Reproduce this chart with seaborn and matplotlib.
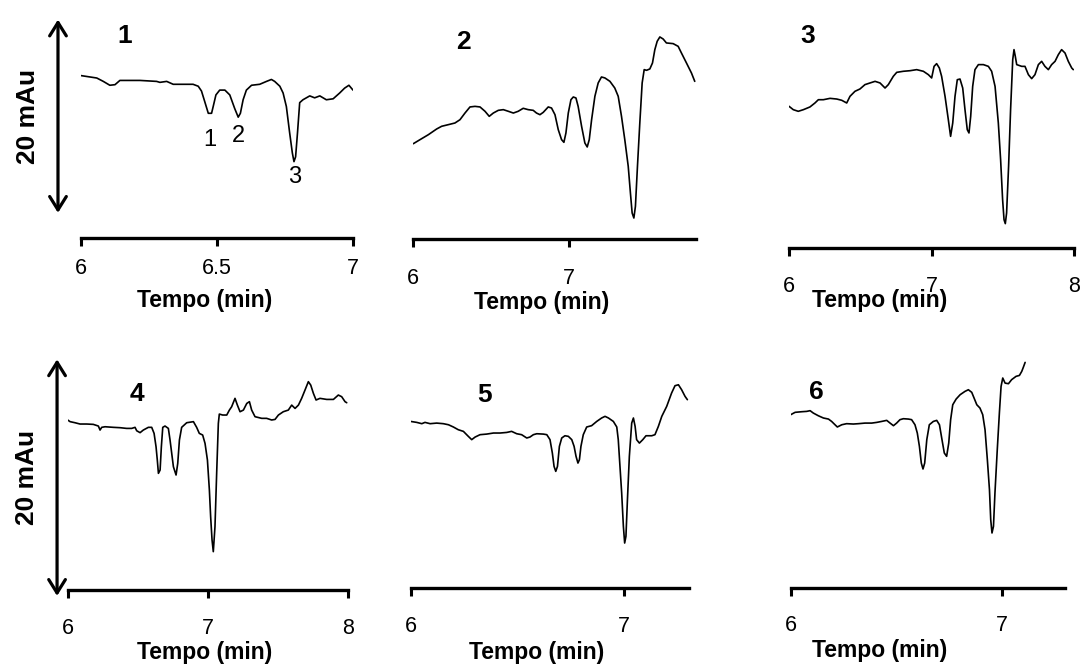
import numpy as np
import pandas as pd
import matplotlib
matplotlib.use("Agg")
import matplotlib.pyplot as plt
import matplotlib.transforms as mtransforms
import seaborn as sns

# ---------------- data (time in min, signal in mAu) ----------------
t1 = [6.000, 6.058, 6.082, 6.106, 6.125, 6.143, 6.217, 6.278, 6.290, 6.315, 6.339, 6.364, 6.412, 6.431,
      6.443, 6.455, 6.468, 6.480, 6.486, 6.496, 6.510, 6.529, 6.547, 6.565, 6.578, 6.586, 6.596, 6.608,
      6.627, 6.657, 6.682, 6.700, 6.712, 6.731, 6.743, 6.755, 6.767, 6.777, 6.783, 6.789, 6.796, 6.804,
      6.816, 6.841, 6.859, 6.878, 6.902, 6.927, 6.951, 6.969, 6.985, 7.000]
s1 = [16.8, 16.55, 16.2, 15.8, 15.86, 16.3, 16.3, 16.2, 16.1, 16.2, 15.9, 15.9, 15.9, 15.7,
      15.2, 14.1, 12.9, 12.9, 13.6, 14.8, 15.3, 15.3, 14.8, 13.4, 12.5, 12.9, 14.3, 15.3,
      15.8, 15.9, 16.2, 16.4, 16.2, 15.7, 15.0, 13.6, 10.9, 8.8, 7.9, 8.4, 10.9, 14.0,
      14.3, 14.7, 14.5, 14.7, 14.3, 14.4, 15.0, 15.5, 15.8, 15.3]

t2 = [6.004, 6.047, 6.100, 6.153, 6.185, 6.228, 6.270, 6.302, 6.334, 6.366, 6.398, 6.430, 6.462, 6.489,
      6.515, 6.547, 6.579, 6.611, 6.643, 6.674, 6.706, 6.738, 6.770, 6.791, 6.813, 6.834, 6.866, 6.887,
      6.909, 6.930, 6.951, 6.966, 6.979, 6.994, 7.011, 7.026, 7.043, 7.057, 7.079, 7.100, 7.115, 7.128,
      7.143, 7.164, 7.185, 7.206, 7.228, 7.260, 7.291, 7.313, 7.334, 7.355, 7.377, 7.391, 7.402, 7.413,
      7.423, 7.436, 7.451, 7.466, 7.479, 7.494, 7.515, 7.532, 7.547, 7.562, 7.579, 7.600, 7.621, 7.664,
      7.696, 7.717, 7.749, 7.781, 7.802]
s2 = [9.86, 10.28, 10.79, 11.38, 11.66, 11.83, 12.0, 12.34, 13.03, 13.66, 13.72, 13.66, 13.21, 12.69,
      13.03, 13.31, 13.38, 13.21, 13.03, 13.21, 13.52, 13.38, 13.31, 13.03, 12.86, 13.10, 13.66, 13.55,
      12.86, 11.31, 10.28, 10.0, 10.97, 13.03, 14.41, 14.69, 14.59, 13.72, 11.66, 9.93, 9.52, 10.28,
      12.34, 14.76, 16.14, 16.76, 16.66, 16.31, 15.62, 14.76, 12.69, 10.28, 7.52, 4.76, 2.69, 2.17,
      3.38, 7.52, 12.0, 16.14, 17.52, 17.45, 17.59, 18.21, 19.59, 20.45, 20.90, 20.69, 20.28, 20.21,
      19.93, 19.24, 18.21, 17.17, 16.31]

t3 = [6.000, 6.030, 6.065, 6.101, 6.147, 6.182, 6.206, 6.241, 6.288, 6.335, 6.370, 6.405, 6.428, 6.463,
      6.498, 6.533, 6.568, 6.604, 6.639, 6.674, 6.697, 6.732, 6.756, 6.802, 6.849, 6.896, 6.943, 6.978,
      7.001, 7.018, 7.036, 7.055, 7.071, 7.095, 7.118, 7.134, 7.149, 7.165, 7.181, 7.200, 7.219, 7.235,
      7.251, 7.263, 7.275, 7.289, 7.305, 7.329, 7.364, 7.399, 7.422, 7.446, 7.469, 7.485, 7.499, 7.509,
      7.518, 7.527, 7.541, 7.555, 7.570, 7.579, 7.588, 7.598, 7.633, 7.656, 7.680, 7.703, 7.726, 7.750,
      7.773, 7.796, 7.820, 7.843, 7.867, 7.890, 7.913, 7.937, 7.960, 7.984, 7.995]
s3 = [14.66, 14.31, 14.14, 14.31, 14.59, 15.0, 15.34, 15.34, 15.48, 15.41, 15.28, 15.0, 15.69, 16.21,
      16.45, 16.90, 17.07, 17.24, 17.07, 16.55, 16.90, 17.76, 18.17, 18.28, 18.34, 18.45, 18.28, 17.93,
      17.59, 18.79, 19.07, 18.62, 17.76, 15.69, 13.28, 11.55, 12.93, 15.69, 17.41, 17.48, 16.55, 14.31,
      12.24, 11.90, 13.62, 16.72, 18.45, 18.97, 18.97, 18.79, 18.28, 16.72, 12.93, 9.14, 5.0, 2.93,
      2.52, 3.62, 8.45, 14.31, 19.48, 20.52, 19.83, 18.97, 18.79, 18.79, 17.93, 17.52, 17.93, 18.97,
      19.31, 18.79, 18.45, 18.97, 19.31, 20.0, 20.52, 20.17, 19.31, 18.62, 18.45]

t4 = [6.000, 6.017, 6.052, 6.088, 6.136, 6.183, 6.219, 6.231, 6.243, 6.267, 6.326, 6.374, 6.421, 6.457,
      6.481, 6.493, 6.517, 6.540, 6.576, 6.600, 6.617, 6.631, 6.640, 6.648, 6.660, 6.669, 6.679, 6.695,
      6.719, 6.731, 6.743, 6.755, 6.774, 6.786, 6.798, 6.814, 6.850, 6.898, 6.921, 6.940, 6.964, 6.981,
      6.998, 7.012, 7.021, 7.031, 7.040, 7.052, 7.064, 7.076, 7.083, 7.107, 7.136, 7.155, 7.171, 7.195,
      7.212, 7.231, 7.255, 7.279, 7.298, 7.314, 7.338, 7.386, 7.421, 7.457, 7.481, 7.505, 7.540, 7.576,
      7.600, 7.624, 7.648, 7.671, 7.695, 7.719, 7.736, 7.755, 7.774, 7.802, 7.850, 7.898, 7.933, 7.957,
      7.981, 7.993]
s4 = [14.37, 14.23, 14.14, 14.03, 14.03, 14.0, 13.86, 13.52, 13.75, 13.80, 13.75, 13.72, 13.66, 13.66,
      13.75, 13.46, 13.30, 13.52, 13.75, 13.75, 13.24, 12.11, 10.99, 9.86, 10.14, 12.11, 13.75, 13.86,
      13.66, 12.68, 11.55, 10.42, 9.72, 10.70, 12.68, 13.75, 14.14, 14.23, 13.75, 13.24, 13.10, 12.39,
      10.99, 8.45, 6.20, 4.23, 3.24, 5.35, 9.86, 14.08, 14.87, 14.79, 14.79, 15.21, 15.49, 16.20,
      15.63, 15.07, 15.21, 15.77, 15.92, 15.21, 14.65, 14.51, 14.51, 14.37, 14.42, 14.79, 15.07, 15.21,
      15.63, 15.35, 15.63, 16.20, 16.90, 17.61, 17.32, 16.62, 16.06, 16.20, 16.11, 16.11, 16.48, 16.34,
      15.92, 15.83]

t5 = [6.000, 6.028, 6.052, 6.067, 6.091, 6.122, 6.153, 6.177, 6.200, 6.223, 6.247, 6.270, 6.286, 6.302,
      6.325, 6.356, 6.388, 6.419, 6.450, 6.473, 6.497, 6.520, 6.544, 6.559, 6.575, 6.591, 6.622, 6.638,
      6.653, 6.664, 6.672, 6.680, 6.688, 6.697, 6.708, 6.723, 6.739, 6.755, 6.766, 6.775, 6.784, 6.791,
      6.798, 6.809, 6.825, 6.848, 6.872, 6.895, 6.911, 6.927, 6.950, 6.966, 6.973, 6.981, 6.989, 6.997,
      7.003, 7.009, 7.016, 7.025, 7.036, 7.044, 7.052, 7.059, 7.072, 7.088, 7.103, 7.130, 7.145, 7.161,
      7.177, 7.200, 7.223, 7.239, 7.255, 7.270, 7.286, 7.297]
s5 = [14.08, 14.0, 13.89, 14.0, 13.89, 13.94, 13.89, 13.80, 13.61, 13.38, 13.24, 12.82, 12.54, 12.76,
      12.96, 13.01, 13.10, 13.10, 13.15, 13.24, 13.04, 12.96, 12.68, 12.76, 12.96, 13.04, 13.01, 12.96,
      12.54, 11.41, 10.28, 9.86, 10.28, 11.97, 12.68, 12.87, 12.82, 12.54, 11.97, 11.13, 10.56, 10.85,
      11.97, 12.96, 13.61, 13.72, 14.08, 14.37, 14.51, 14.37, 14.08, 13.61, 12.54, 10.28, 8.03, 5.21,
      3.80, 4.37, 7.46, 11.13, 13.94, 14.37, 13.66, 12.54, 12.25, 12.54, 12.87, 12.87, 12.96, 13.66,
      14.51, 15.35, 16.48, 17.10, 17.18, 16.76, 16.20, 15.92]

t6 = [6.000, 6.021, 6.052, 6.076, 6.092, 6.107, 6.131, 6.155, 6.179, 6.194, 6.210, 6.221, 6.242, 6.265,
      6.297, 6.321, 6.352, 6.384, 6.408, 6.431, 6.455, 6.471, 6.487, 6.502, 6.518, 6.534, 6.558, 6.573,
      6.589, 6.600, 6.610, 6.619, 6.627, 6.635, 6.645, 6.657, 6.676, 6.692, 6.705, 6.717, 6.728, 6.739,
      6.749, 6.758, 6.768, 6.784, 6.803, 6.826, 6.842, 6.858, 6.869, 6.882, 6.897, 6.910, 6.921, 6.932,
      6.942, 6.948, 6.954, 6.961, 6.968, 6.979, 6.989, 6.997, 7.005, 7.016, 7.032, 7.047, 7.068, 7.084,
      7.095, 7.103, 7.111]
s6 = [14.65, 14.85, 14.90, 14.93, 14.99, 14.79, 14.56, 14.37, 14.28, 14.08, 13.80, 13.61, 13.80, 13.89,
      13.86, 13.89, 13.94, 13.94, 14.0, 14.08, 14.17, 13.94, 13.72, 13.94, 14.23, 14.31, 14.28, 14.23,
      13.80, 13.10, 11.97, 10.56, 10.06, 10.56, 12.54, 13.80, 14.08, 14.17, 13.80, 12.54, 11.41, 11.13,
      12.25, 14.23, 15.49, 15.97, 16.34, 16.62, 16.76, 16.54, 16.06, 15.49, 15.21, 14.65, 13.38, 10.85,
      8.31, 5.77, 4.65, 5.21, 8.03, 11.69, 14.79, 17.04, 17.75, 17.32, 17.27, 17.61, 17.89, 17.97,
      18.31, 18.68, 19.07]

panel_names = ["1", "2", "3", "4", "5", "6"]
ticks1 = [6, 6.5, 7]
ticks2 = [6, 7]
ticks3 = [6, 7, 8]
ticks4 = [6, 7, 8]
ticks5 = [6, 7]
ticks6 = [6, 7]
peak_names = ["1", "2", "3"]
peak_t = [6.474, 6.578, 6.787]
peak_s = [10.1, 10.5, 6.3]
xlabel_text = "Tempo (min)"
scale_text = "20 mAu"
scale_len = 20.0

# ---------------- style ----------------
sns.set_theme(style="white")
plt.rcParams["font.family"] = ["Liberation Sans", "DejaVu Sans"]

W, H = 1084, 671
fig = plt.figure(figsize=(W / 100, H / 100), dpi=100)
fig.patch.set_facecolor("white")


def fmt(v):
    return ("%g" % v)


def make_ax(left, right, bottom, top, xmax, pxmau, ticks, pad):
    ax = fig.add_axes([left / W, 1 - bottom / H, (right - left) / W, (bottom - top) / H])
    ax.set_facecolor("none")
    ax.set_xlim(6, xmax)
    ax.set_ylim(0, (bottom - top) / pxmau)
    for sp in ["left", "right", "top"]:
        ax.spines[sp].set_visible(False)
    ax.spines["bottom"].set_linewidth(2.4)
    ax.spines["bottom"].set_color("black")
    ax.set_yticks([])
    ax.set_xticks(ticks)
    ax.set_xticklabels([fmt(v) for v in ticks])
    ax.tick_params(axis="x", direction="out", length=6, width=2.2, color="black",
                   labelsize=15.5, labelcolor="black", pad=pad, bottom=True)
    ax.set_xlabel("")
    ax.set_ylabel("")
    return ax


row1 = 9.667   # px per mAu, top row
row2 = 11.83   # px per mAu, bottom row

specs = [
    (t1, s1, 81, 353, 238, 8, 7.0, row1, ticks1, 8.5, (6.162, 20.9), (205, 300)),
    (t2, s2, 412.7, 696, 239, 8, 7.81, row1, ticks2, 15, (6.323, 20.4), (542, 302)),
    (t3, s3, 789, 1074, 248, 8, 8.0, row1, ticks3, 14, (6.128, 21.9), (880, 301)),
    (t4, s4, 67.7, 347.7, 590, 345, 8.0, row2, ticks4, 14, (6.493, 16.6), (205, 653)),
    (t5, s5, 410.7, 689.3, 588, 345, 7.306, row2, ticks5, 14, (6.348, 16.3), (537, 652)),
    (t6, s6, 790.7, 1065, 588, 345, 7.30, row2, ticks6, 13.5, (6.123, 16.6), (880, 650)),
]

axes = []
for i, (t, s, l, r, b, tp, xm, sc, tk, pad, numpos, labpos) in enumerate(specs):
    ax = make_ax(l, r, b, tp, xm, sc, tk, pad)
    df = pd.DataFrame({"t": t, "s": s})
    sns.lineplot(data=df, x="t", y="s", ax=ax, color="black", linewidth=1.2,
                 estimator=None, sort=False, legend=False)
    ax.set_xlabel("")
    ax.set_ylabel("")
    ax.text(numpos[0], numpos[1], panel_names[i], fontsize=19, fontweight="bold",
            ha="center", va="center", color="black")
    fig.text(labpos[0] / W, 1 - labpos[1] / H, xlabel_text, fontsize=16.5, fontweight="bold",
             ha="center", va="center", color="black")
    axes.append(ax)

# peak labels on panel 1
for name, pt, ps in zip(peak_names, peak_t, peak_s):
    axes[0].text(pt, ps, name, fontsize=17, ha="center", va="center", color="black")

# scale arrows (20 mAu)
for ax, ax_frac, txt_frac, y0 in [(axes[0], -0.0846, -0.195, 2.6),
                                  (axes[3], -0.038, -0.145, -0.5)]:
    tr = mtransforms.blended_transform_factory(ax.transAxes, ax.transData)
    ax.annotate("", xy=(ax_frac, y0 + scale_len), xytext=(ax_frac, y0),
                xycoords=tr, textcoords=tr, annotation_clip=False,
                arrowprops=dict(arrowstyle="<->,head_length=0.8,head_width=0.5",
                                lw=2.3, color="black", shrinkA=0, shrinkB=0))
    ax.text(txt_frac, y0 + scale_len / 2, scale_text, transform=tr, rotation=90,
            fontsize=19, fontweight="bold", ha="center", va="center", color="black",
            clip_on=False)

fig.savefig("out.png", dpi=100, facecolor="white")
